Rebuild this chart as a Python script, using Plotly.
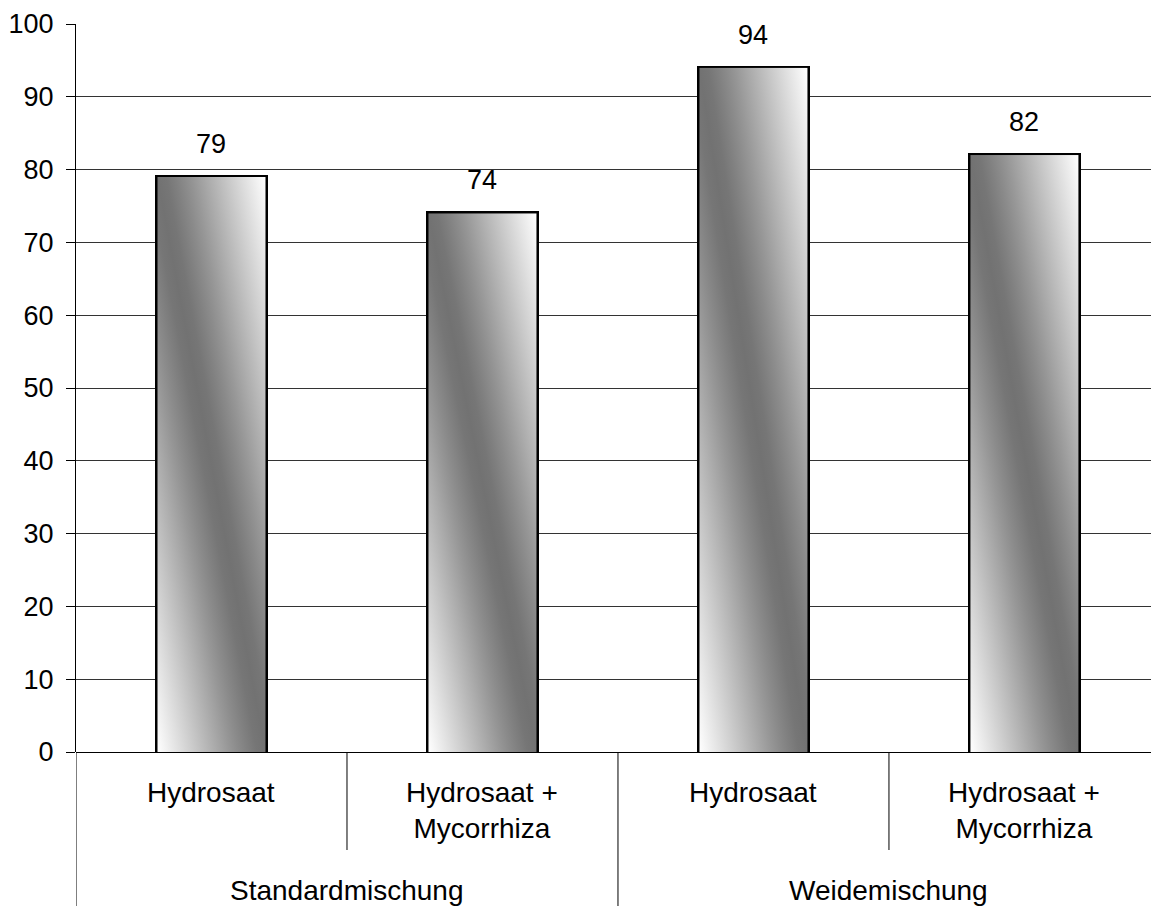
import base64
import math
import plotly.graph_objects as go

# Data
groups = ["Standardmischung", "Standardmischung", "Weidemischung", "Weidemischung"]
treatments = ["Hydrosaat", "Hydrosaat +<br>Mycorrhiza", "Hydrosaat", "Hydrosaat +<br>Mycorrhiza"]
values = [79, 74, 94, 82]
y_ticks = [0, 10, 20, 30, 40, 50, 60, 70, 80, 90, 100]

FONT = "Liberation Sans"
BAR_W = 0.4

# Diagonal white-grey-white gradient used as the fill of each bar
# (near-linear ramps with a softened dark ridge in the middle)
DARK = 114
EPS = 0.12
norm = math.sqrt(1 + EPS ** 2) - EPS
stops = []
n = 24
for k in range(n + 1):
    t = k / n
    d = abs(t - 0.5) * 2
    f = (math.sqrt(d * d + EPS ** 2) - EPS) / norm
    lvl = round(DARK + (255 - DARK) * f)
    stops.append('<stop offset="%.4f" stop-color="rgb(%d,%d,%d)"/>' % (t, lvl, lvl, lvl))
grad_svg = (
    '<svg xmlns="http://www.w3.org/2000/svg" width="100" height="100" '
    'viewBox="0 0 100 100" preserveAspectRatio="none">'
    '<defs><linearGradient id="g" x1="0" y1="1" x2="1" y2="0">'
    + "".join(stops) +
    '</linearGradient></defs>'
    '<rect x="0" y="0" width="100" height="100" fill="url(#g)"/></svg>'
)
grad_uri = "data:image/svg+xml;base64," + base64.b64encode(grad_svg.encode()).decode()

xs = list(range(len(values)))

fig = go.Figure()
fig.add_trace(go.Bar(
    x=xs, y=values, width=BAR_W,
    marker=dict(color="rgba(0,0,0,0)", line=dict(color="black", width=4)),
    hoverinfo="skip",
))

images = []
annotations = []
for x, v in zip(xs, values):
    images.append(dict(
        source=grad_uri, xref="x", yref="y",
        x=x - BAR_W / 2, y=v, sizex=BAR_W, sizey=v,
        xanchor="left", yanchor="top", sizing="stretch", layer="above",
    ))
    annotations.append(dict(
        x=x, y=v, xref="x", yref="y", text=str(v), showarrow=False,
        yanchor="middle", yshift=33, font=dict(size=27, color="black", family=FONT),
    ))

# Category labels below the axis
for x, t in zip(xs, treatments):
    annotations.append(dict(
        x=x, y=0, xref="x", yref="paper", text=t, showarrow=False,
        yanchor="top", yshift=-23, font=dict(size=28, color="black", family=FONT),
    ))
group_names = []
for g in groups:
    if g not in group_names:
        group_names.append(g)
for g in group_names:
    members = [i for i, gg in enumerate(groups) if gg == g]
    annotations.append(dict(
        x=sum(members) / len(members), y=0, xref="x", yref="paper", text=g,
        showarrow=False, yanchor="middle", yshift=-138,
        font=dict(size=28, color="black", family=FONT),
    ))

# Divider lines of the category axis
shapes = []
bottom = -154 / 728
inner = -98 / 728
for i in range(len(xs)):
    left = i - 0.5
    y_end = bottom if (i == 0 or groups[i] != groups[i - 1]) else inner
    shapes.append(dict(type="line", xref="x", yref="paper", x0=left, x1=left,
                       y0=0, y1=y_end, line=dict(color="black", width=1)))

fig.update_layout(
    width=1151, height=906,
    margin=dict(l=76, r=0, t=24, b=154),
    paper_bgcolor="white", plot_bgcolor="white",
    showlegend=False,
    images=images, annotations=annotations, shapes=shapes,
    bargap=0,
    xaxis=dict(range=[-0.5, 3.467], showticklabels=False, showgrid=False,
               zeroline=False, showline=False, ticks=""),
    yaxis=dict(range=[0, 100], tickvals=y_ticks, ticks="outside", ticklen=9,
               tickcolor="black", showline=True, linecolor="black", linewidth=1,
               showgrid=True, gridcolor="#333333", gridwidth=1,
               zeroline=True, zerolinecolor="black", zerolinewidth=1,
               tickfont=dict(size=27, color="black", family=FONT),
               ticklabelstandoff=7),
)

fig.write_html("out.html")
